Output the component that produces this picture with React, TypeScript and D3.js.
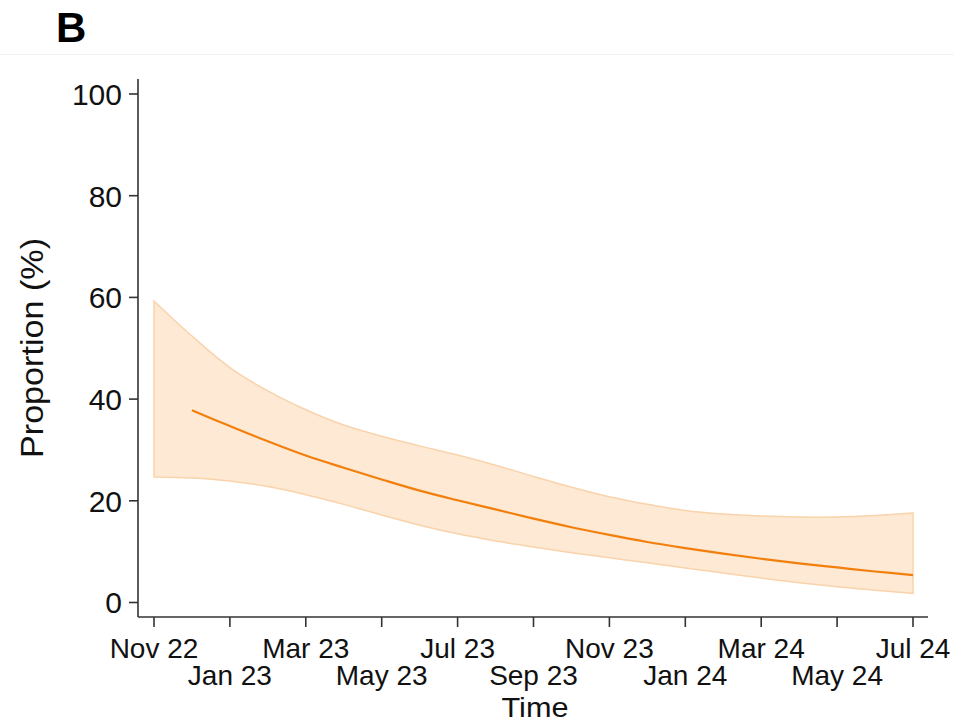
import React from "react";
import * as d3 from "d3";

// monthly index: 0 = Nov 22 ... 20 = Jul 24
const months = [
  "Nov 22", "Dec 22", "Jan 23", "Feb 23", "Mar 23", "Apr 23", "May 23", "Jun 23",
  "Jul 23", "Aug 23", "Sep 23", "Oct 23", "Nov 23", "Dec 23", "Jan 24", "Feb 24",
  "Mar 24", "Apr 24", "May 24", "Jun 24", "Jul 24",
];
const tickMonths = [0, 2, 4, 6, 8, 10, 12, 14, 16, 18, 20];
const yTicks = [0, 20, 40, 60, 80, 100];

const upper = [
  59.3, 52.4, 46.2, 41.6, 37.9, 34.9, 32.7, 30.8, 29.0, 27.0, 24.8,
  22.7, 20.8, 19.3, 18.1, 17.4, 17.0, 16.8, 16.8, 17.1, 17.6,
];
const lower = [
  24.7, 24.5, 23.9, 22.8, 21.2, 19.3, 17.2, 15.2, 13.5, 12.1, 10.9,
  9.8, 8.8, 7.8, 6.8, 5.8, 4.8, 3.9, 3.1, 2.4, 1.8,
];
// fitted proportion starts at Dec 22
const fitted = [
  null, 37.8, 34.7, 31.7, 28.9, 26.5, 24.2, 22.0, 20.1, 18.3, 16.5,
  14.8, 13.3, 11.9, 10.7, 9.6, 8.6, 7.7, 6.9, 6.1, 5.4,
];

const width = 954;
const height = 723;
const font = "Arial, 'Liberation Sans', Helvetica, sans-serif";

export default function App() {
  const x = d3.scaleLinear().domain([0, 20]).range([154, 913]);
  const y = d3.scaleLinear().domain([0, 100]).range([602.5, 94]);
  const axisX = 138;
  const axisY = 617;

  const band = d3
    .area<number>()
    .x((d, i) => x(i))
    .y0((d, i) => y(lower[i]))
    .y1((d) => y(d))
    .curve(d3.curveCatmullRom);

  const line = d3
    .line<number | null>()
    .defined((d) => d !== null)
    .x((d, i) => x(i))
    .y((d) => y(d as number))
    .curve(d3.curveCatmullRom);

  return (
    <div style={{ position: "absolute", left: 0, top: 0 }}>
      <svg width={width} height={height} style={{ display: "block", background: "#fff" }}>
        <text x={56} y={42} fontFamily={font} fontWeight="bold" fontSize={42} fill="#000">
          B
        </text>
        <line x1={0} x2={width} y1={54.5} y2={54.5} stroke="#f3f3f3" strokeWidth={1} />

        <path d={band(upper) || ""} fill="#fde9d4" stroke="#f9d3ab" strokeWidth={1.5} />
        <path d={line(fitted) || ""} fill="none" stroke="#f27f0c" strokeWidth={2.2} />

        {/* y axis */}
        <line x1={axisX} x2={axisX} y1={79} y2={axisY} stroke="#333" strokeWidth={1.6} />
        {yTicks.map((t) => (
          <g key={t}>
            <line x1={129} x2={axisX} y1={y(t)} y2={y(t)} stroke="#333" strokeWidth={1.6} />
            <text
              x={122}
              y={y(t)}
              dy="0.36em"
              textAnchor="end"
              fontFamily={font}
              fontSize={30}
              fill="#111"
            >
              {t}
            </text>
          </g>
        ))}
        <text
          transform={`translate(43,348) rotate(-90)`}
          textAnchor="middle"
          fontFamily={font}
          fontSize={31}
          fill="#111"
          textLength={220}
          lengthAdjust="spacingAndGlyphs"
        >
          Proportion (%)
        </text>

        {/* x axis */}
        <line x1={axisX} x2={928} y1={axisY} y2={axisY} stroke="#333" strokeWidth={1.6} />
        {tickMonths.map((m, k) => (
          <g key={m}>
            <line x1={x(m)} x2={x(m)} y1={axisY} y2={627} stroke="#333" strokeWidth={1.6} />
            <text
              x={x(m)}
              y={k % 2 === 0 ? 658 : 685}
              textAnchor="middle"
              fontFamily={font}
              fontSize={28}
              fill="#111"
            >
              {months[m]}
            </text>
          </g>
        ))}
        <text
          x={535}
          y={716.5}
          textAnchor="middle"
          fontFamily={font}
          fontSize={28}
          fill="#111"
          textLength={67}
          lengthAdjust="spacingAndGlyphs"
        >
          Time
        </text>
      </svg>
    </div>
  );
}
